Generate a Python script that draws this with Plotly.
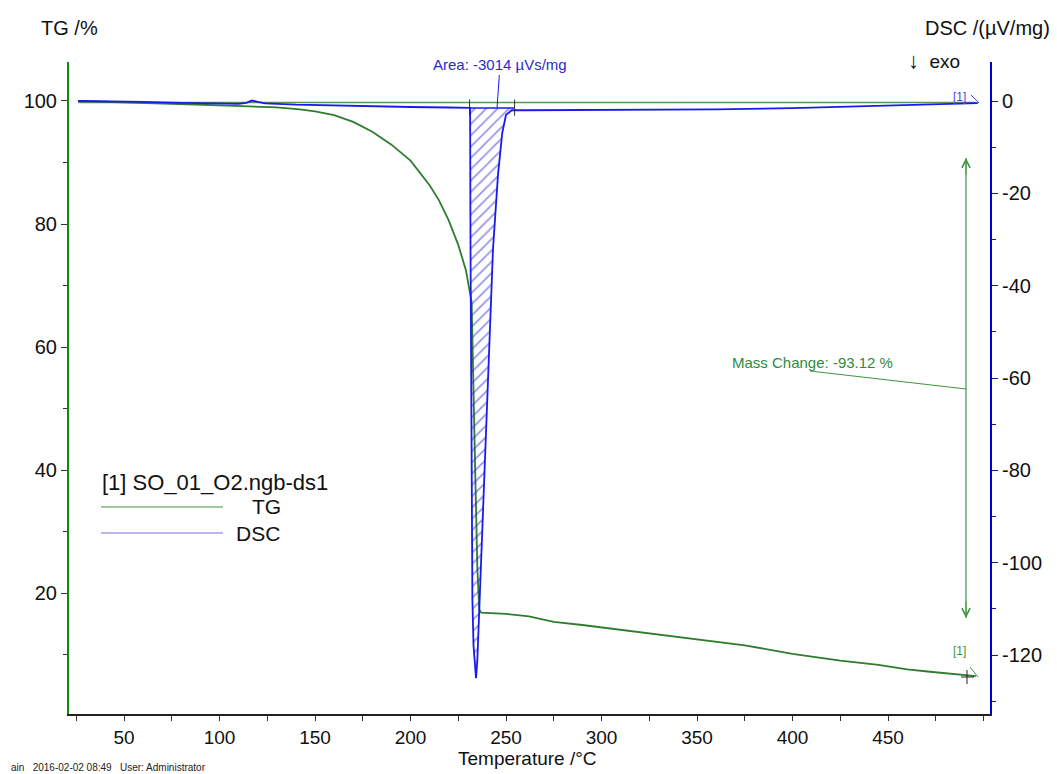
import plotly.graph_objects as go

# ---------------- data ----------------
temp_tg = [26, 40, 50, 75, 100, 116, 130, 142, 150, 160, 170, 180, 190, 200, 210, 215, 220, 225, 229,
           232, 233, 234, 235, 236, 237, 245, 250, 262, 275, 290, 300, 310, 330,
           350, 375, 400, 425, 445, 460, 472, 485, 496]
tg = [100.0, 99.9, 99.8, 99.55, 99.3, 99.15, 98.95, 98.65, 98.3, 97.7, 96.6, 95.0, 92.9, 90.3, 86.3,
      83.8, 80.6, 76.6, 72.5, 67.3, 55.0, 38.0, 24.0, 17.3, 16.8, 16.7, 16.6,
      16.2, 15.3, 14.8, 14.4, 14.1, 13.3, 12.5, 11.5, 10.1, 9.0, 8.3, 7.6, 7.2, 6.8, 6.5]

temp_dsc = [26, 40, 60, 80, 100, 110, 114, 117, 120, 124, 140, 160, 180, 200, 220, 231.2, 231.4, 231.7,
            232.0, 232.4, 233.0, 234.3, 235.0, 236.0, 237.4, 240.0, 243.2, 245.8, 248.0, 250.0, 253.0,
            260, 290, 330, 360, 400, 430, 450, 470, 485, 497]
dsc = [0.0, -0.05, -0.2, -0.4, -0.55, -0.6, -0.4, 0.1, -0.2, -0.5, -0.8, -1.0, -1.15, -1.3, -1.4, -1.5,
       -30.0, -60.0, -90.0, -108.0, -118.0, -125.0, -121.0, -110.0, -94.0, -64.0, -32.0, -16.0, -7.0,
       -3.0, -2.0, -2.0, -1.95, -1.85, -1.8, -1.55, -1.25, -1.05, -0.8, -0.6, -0.45]

x_tick_vals = [50, 100, 150, 200, 250, 300, 350, 400, 450]
tg_tick_vals = [20, 40, 60, 80, 100]
dsc_tick_vals = [-120, -100, -80, -60, -40, -20, 0]
dsc_tick_text = [str(v) for v in dsc_tick_vals]

peak_start, peak_end, peak_baseline = 231.2, 253.0, -1.5
mass_ref = 99.75
legend_title = "[1] SO_01_O2.ngb-ds1"
area_text = "Area: -3014 µVs/mg"
mass_text = "Mass Change: -93.12 %"
footer_text = "ain   2016-02-02 08:49   User: Administrator"

# ---------------- layout helpers ----------------
# page has an 8px body margin; coordinates below are in page pixels
OFF = 8
W, H = 1057 - OFF, 774 - OFF
L, R, T, B = 69, 990, 62, 714
FONT = "Liberation Sans, Arial, sans-serif"
GREEN = "#2e7d2e"
BLUE = "#1a1aee"
MGREEN = "#3e963e"


def px(x):
    return (x - L) / (R - L)


def py(y):
    return (B - y) / (B - T)


fig = go.Figure()

# reference line for mass change
fig.add_trace(go.Scatter(x=[temp_tg[0], temp_tg[-1]], y=[mass_ref, mass_ref], mode="lines",
                         line=dict(color="#4e9e4e", width=1.5), hoverinfo="skip", showlegend=False))

# hatched peak area
area_x = [t for t in temp_dsc if peak_start <= t <= peak_end]
area_y = [d for t, d in zip(temp_dsc, dsc) if peak_start <= t <= peak_end]
area_x = area_x + [peak_end, peak_start]
area_y = area_y + [peak_baseline, peak_baseline]
fig.add_trace(go.Scatter(x=area_x, y=area_y, yaxis="y2", mode="lines", fill="toself",
                         fillcolor="rgba(0,0,0,0)",
                         fillpattern=dict(shape="/", fgcolor="#2a2ae0", bgcolor="rgba(255,255,255,0)",
                                          size=8, solidity=0.22),
                         line=dict(width=0), hoverinfo="skip", showlegend=False))

# TG
fig.add_trace(go.Scatter(x=temp_tg, y=tg, mode="lines", line=dict(color=GREEN, width=1.8),
                         name="TG", showlegend=False))
# DSC
fig.add_trace(go.Scatter(x=temp_dsc, y=dsc, yaxis="y2", mode="lines", line=dict(color=BLUE, width=1.8),
                         name="DSC", showlegend=False))

shapes = []
annotations = []

# area baseline + end markers
shapes.append(dict(type="line", xref="x", yref="y2", x0=peak_start, x1=peak_end + 1.5,
                   y0=peak_baseline, y1=peak_baseline, line=dict(color=BLUE, width=1.5)))
for xx in (peak_start - 0.3, peak_end + 1.5):
    shapes.append(dict(type="line", xref="x", yref="y2", x0=xx, x1=xx, y0=0.3, y1=-3.2,
                       line=dict(color="#333333", width=1)))

# area label
annotations.append(dict(x=245.3, y=peak_baseline, xref="x", yref="y2", text=area_text, showarrow=True,
                        arrowhead=0, arrowwidth=1, arrowcolor=BLUE, ax=3, ay=-43,
                        font=dict(family=FONT, size=15, color="#2a2ad0")))

# mass change double arrow
shapes.append(dict(type="line", xref="paper", yref="paper", x0=px(966), x1=px(966), y0=py(158), y1=py(618),
                   line=dict(color=MGREEN, width=1.2)))
annotations.append(dict(x=px(966), y=py(158), xref="paper", yref="paper", ax=0, ay=18, text="",
                        showarrow=True, arrowhead=5, arrowsize=1.6, arrowwidth=1, arrowcolor=MGREEN))
annotations.append(dict(x=px(966), y=py(618), xref="paper", yref="paper", ax=0, ay=-18, text="",
                        showarrow=True, arrowhead=5, arrowsize=1.6, arrowwidth=1, arrowcolor=MGREEN))
shapes.append(dict(type="line", xref="paper", yref="paper", x0=px(810), x1=px(966), y0=py(371), y1=py(389),
                   line=dict(color=MGREEN, width=1)))
annotations.append(dict(x=px(730), y=py(362), xref="paper", yref="paper", text=mass_text, showarrow=False,
                        xanchor="left", yanchor="middle", font=dict(family=FONT, size=15, color="#2e8b3e")))

# [1] markers
annotations.append(dict(x=px(968), y=py(88), xref="paper", yref="paper", text="[1]", showarrow=False,
                        font=dict(family=FONT, size=12, color="#4a4ad0")))
shapes.append(dict(type="line", xref="paper", yref="paper", x0=px(971), x1=px(979), y0=py(95), y1=py(103),
                   line=dict(color="#4a4ad0", width=1)))
annotations.append(dict(x=px(968), y=py(660), xref="paper", yref="paper", text="[1]", showarrow=False,
                        font=dict(family=FONT, size=12, color=MGREEN)))
shapes.append(dict(type="line", xref="paper", yref="paper", x0=px(970), x1=px(978), y0=py(667), y1=py(677),
                   line=dict(color=MGREEN, width=1)))
shapes.append(dict(type="line", xref="paper", yref="paper", x0=px(961), x1=px(974), y0=py(677), y1=py(677),
                   line=dict(color="#222222", width=1)))
shapes.append(dict(type="line", xref="paper", yref="paper", x0=px(967), x1=px(967), y0=py(670), y1=py(684),
                   line=dict(color="#222222", width=1)))

# legend
annotations.append(dict(x=px(100), y=py(483), xref="paper", yref="paper", text=legend_title, showarrow=False,
                        xanchor="left", yanchor="middle", font=dict(family=FONT, size=22, color="#111111")))
shapes.append(dict(type="line", xref="paper", yref="paper", x0=px(101), x1=px(223), y0=py(507), y1=py(507),
                   line=dict(color="#3c963c", width=1.2)))
annotations.append(dict(x=px(250), y=py(507), xref="paper", yref="paper", text="TG", showarrow=False,
                        xanchor="left", yanchor="middle", font=dict(family=FONT, size=21, color="#111111")))
shapes.append(dict(type="line", xref="paper", yref="paper", x0=px(101), x1=px(223), y0=py(533), y1=py(533),
                   line=dict(color="#7373d9", width=1.2)))
annotations.append(dict(x=px(234), y=py(533), xref="paper", yref="paper", text="DSC", showarrow=False,
                        xanchor="left", yanchor="middle", font=dict(family=FONT, size=21, color="#111111")))

# axis titles
annotations.append(dict(x=px(39), y=py(28), xref="paper", yref="paper", text="TG /%", showarrow=False,
                        xanchor="left", yanchor="middle", font=dict(family=FONT, size=20, color="#111111")))
annotations.append(dict(x=px(1052), y=py(28), xref="paper", yref="paper", text="DSC /(µV/mg)",
                        showarrow=False, xanchor="right", yanchor="middle",
                        font=dict(family=FONT, size=20, color="#111111")))
annotations.append(dict(x=px(906), y=py(61), xref="paper", yref="paper", text="<span style='font-size:22px'>↓</span>  exo",
                        showarrow=False, xanchor="left", yanchor="middle",
                        font=dict(family=FONT, size=19, color="#111111")))
annotations.append(dict(x=px(527), y=py(758), xref="paper", yref="paper", text="Temperature /°C",
                        showarrow=False, xanchor="center", yanchor="middle",
                        font=dict(family=FONT, size=19, color="#111111")))
annotations.append(dict(x=px(9), y=py(767), xref="paper", yref="paper", text=footer_text, showarrow=False,
                        xanchor="left", yanchor="middle", font=dict(family=FONT, size=10, color="#222222")))

fig.update_layout(
    width=W, height=H,
    margin=dict(l=L - OFF, r=W - (R - OFF), t=T - OFF, b=H - (B - OFF)),
    paper_bgcolor="white", plot_bgcolor="white",
    showlegend=False,
    font=dict(family=FONT, size=20, color="#111111"),
    xaxis=dict(range=[21.2, 503.4], tickmode="array", tickvals=x_tick_vals, ticks="outside", ticklen=5,
               tickcolor="#333333", showline=True, linecolor="#222222", linewidth=1.5, showgrid=False,
               zeroline=False, tickfont=dict(size=19),
               minor=dict(ticks="outside", ticklen=5, dtick=25, tick0=0, tickcolor="#333333", showgrid=False)),
    yaxis=dict(range=[0.33, 106.34], tickmode="array", tickvals=tg_tick_vals, ticks="outside", ticklen=6,
               tickcolor="#333333", showline=True, linecolor="#118811", linewidth=2, showgrid=False,
               zeroline=False, tickfont=dict(size=20),
               minor=dict(ticks="outside", ticklen=4, dtick=10, tick0=0, tickcolor="#333333", showgrid=False)),
    yaxis2=dict(range=[-132.75, 8.45], overlaying="y", side="right", tickmode="array",
                tickvals=dsc_tick_vals, ticktext=dsc_tick_text, ticks="outside", ticklen=6,
                tickcolor="#1a1a99", showline=True,
                linecolor="#0000dd", linewidth=2, showgrid=False, zeroline=False, tickfont=dict(size=20),
                minor=dict(ticks="outside", ticklen=4, dtick=10, tick0=0, tickcolor="#1a1a99",
                           showgrid=False)),
    shapes=shapes,
    annotations=annotations,
)

fig.write_html("out.html")
